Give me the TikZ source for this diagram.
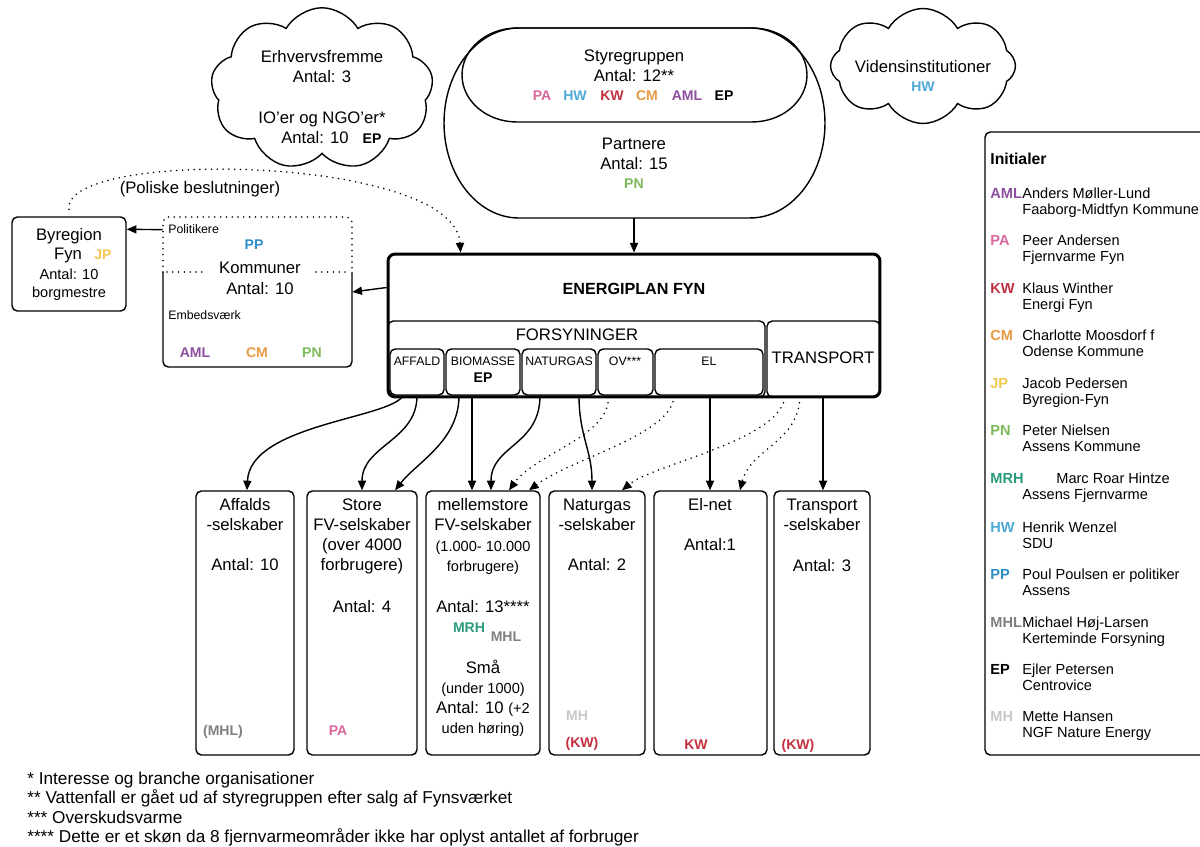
\documentclass[tikz,border=0pt]{standalone}
\usepackage{fontspec}
\setmainfont{Liberation Sans}
\usetikzlibrary{shapes.symbols,arrows.meta,calc}
\definecolor{cPA}{HTML}{D8679B}
\definecolor{cHW}{HTML}{4DA8D6}
\definecolor{cKW}{HTML}{C2303F}
\definecolor{cCM}{HTML}{E69A45}
\definecolor{cAML}{HTML}{8C4F9F}
\definecolor{cPN}{HTML}{7DB85A}
\definecolor{cJP}{HTML}{F0C850}
\definecolor{cMRH}{HTML}{2A9A7E}
\definecolor{cPP}{HTML}{2C8CC4}
\definecolor{cMHL}{HTML}{7F7F7F}
\definecolor{cMH}{HTML}{C8C8C8}
\newcommand\fsMain{\fontsize{9.5}{11}\selectfont}
\newcommand\fsMid{\fontsize{8.3}{10}\selectfont}
\newcommand\fsSmall{\fontsize{7}{8.5}\selectfont}
\newcommand\fsFoot{\fontsize{9.8}{11}\selectfont}
\newcommand\initl[2]{{\fontsize{8}{9}\selectfont\bfseries\color{#1}#2}}
\tikzset{
  box/.style={draw, line width=0.8pt, rounded corners=3pt, inner sep=0pt},
  tx/.style={inner sep=0pt, text height=0.72em, text depth=0pt, font=\fsMain},
  txm/.style={tx, font=\fsMid},
  txs/.style={tx, font=\fsSmall},
  arr/.style={-{Triangle[length=5.5pt,width=4.6pt]}, line width=0.8pt},
  dotline/.style={line width=1pt, dash pattern=on 0pt off 3.3pt, line cap=round},
  darr/.style={dotline, -{Triangle[length=5.5pt,width=4.6pt]}},
  lg/.style={inner sep=0pt, text height=0.72em, text depth=0pt, anchor=west, font=\fsMid},
  lgi/.style={lg, font=\fsMid\bfseries},
  cloudbox/.style={cloud, draw, line width=0.8pt, cloud ignores aspect, inner sep=0pt}
}
\begin{document}
\begin{tikzpicture}[x=0.02cm,y=-0.02cm]
\useasboundingbox (0,0) rectangle (1200,847);

% ---- clouds
\node[cloudbox, cloud puffs=9, cloud puff arc=120, minimum width=4.45cm, minimum height=3.25cm] (erhv) at (322,89) {};
\node[tx] (erhv1) at (322,56) {Erhvervsfremme};
\node[tx] (erhv2) at (322,76) {Antal: 3};
\node[tx] (erhv3) at (322,117) {IO'er og NGO'er*};
\node[tx] (erhv4) at (315,137) {Antal: 10};
\node[tx] (erhv5) at (372,137) {\initl{black}{EP}};

\node[cloudbox, cloud puffs=8, cloud puff arc=120, minimum width=3.7cm, minimum height=2.3cm] (viden) at (923,66) {};
\node[tx] (viden1) at (923,66) {Vidensinstitutioner};
\node[tx] (viden2) at (923,85) {\initl{cHW}{HW}};

% ---- Partnere / Styregruppen
\draw[line width=0.8pt] (519,28) -- (750,28) arc[start angle=90,end angle=-90,x radius=1.5cm,y radius=1.9cm]
  -- (519,218) arc[start angle=270,end angle=90,x radius=1.5cm,y radius=1.9cm] -- cycle;
\draw[line width=0.8pt] (517,28) -- (752,28) arc[start angle=90,end angle=-90,x radius=1.1cm,y radius=0.94cm]
  -- (517,122) arc[start angle=270,end angle=90,x radius=1.1cm,y radius=0.94cm] -- cycle;
\coordinate (partB) at (634,218);
\node[tx] (sty1) at (634,55) {Styregruppen};
\node[tx] (sty2) at (634,75) {Antal: 12**};
\node[tx] (pa1) at (542,94) {\initl{cPA}{PA}};
\node[tx] (hw1) at (575,94) {\initl{cHW}{HW}};
\node[tx] (kw1) at (612,94) {\initl{cKW}{KW}};
\node[tx] (cm1) at (647,94) {\initl{cCM}{CM}};
\node[tx] (aml1) at (687,94) {\initl{cAML}{AML}};
\node[tx] (ep1) at (724,94) {\initl{black}{EP}};
\node[tx] (par1) at (634,143) {Partnere};
\node[tx] (par2) at (634,163) {Antal: 15};
\node[tx] (par3) at (634,182) {\initl{cPN}{PN}};

% ---- Energiplan Fyn
\node[draw, line width=1.7pt, rounded corners=4pt, minimum width=9.84cm, minimum height=2.86cm, inner sep=0pt] (ep) at (634,325.5) {};
\node[tx, font=\fontsize{9.2}{11}\selectfont\bfseries] (eptitle) at (634,288) {ENERGIPLAN FYN};
\node[box, minimum width=7.54cm, minimum height=1.52cm] (forsyn) at (576.5,359) {};
\node[box, minimum width=2.26cm, minimum height=1.52cm] (transp) at (823.5,359) {};
\node[tx] (forsynT) at (577,334) {FORSYNINGER};
\node[tx] (transpT) at (823,357) {TRANSPORT};
\node[box, minimum width=1.08cm, minimum height=0.92cm] (affald) at (417,372) {};
\node[box, minimum width=1.48cm, minimum height=0.92cm] (biomasse) at (483,372) {};
\node[box, minimum width=1.48cm, minimum height=0.92cm] (naturgas) at (559,372) {};
\node[box, minimum width=1.10cm, minimum height=0.92cm] (ov) at (625.5,372) {};
\node[box, minimum width=2.16cm, minimum height=0.92cm] (el) at (709,372) {};
\node[txs] (affaldT) at (417,359) {AFFALD};
\node[txs] (biomasseT) at (483,359) {BIOMASSE};
\node[tx] (biomasseEP) at (483,376) {\initl{black}{EP}};
\node[txs] (naturgasT) at (559,359) {NATURGAS};
\node[txs] (ovT) at (625,359) {OV***};
\node[txs] (elT) at (709,359) {EL};

\draw[arr] (partB) -- (ep.north);

% ---- Kommuner
\draw[line width=0.8pt, rounded corners=3pt] (163,272) -- (163,367) -- (352,367) -- (352,272);
\draw[dotline, rounded corners=3pt] (163,272) -- (163,217) -- (352,217) -- (352,272);
\draw[dotline] (167,272) -- (205,272);
\draw[dotline] (316,272) -- (350,272);
\node[minimum width=3.78cm, minimum height=3cm, inner sep=0pt] (komm) at (257.5,292) {};
\node[txs, anchor=west] (polT) at (168,227) {Politikere};
\node[tx] (pp1) at (254,243) {\initl{cPP}{PP}};
\node[tx] (kommT) at (260,267) {Kommuner};
\node[tx] (kommA) at (260,288) {Antal: 10};
\node[txs, anchor=west] (embT) at (168,313) {Embedsværk};
\node[tx] (aml2) at (195,351) {\initl{cAML}{AML}};
\node[tx] (cm2) at (257,351) {\initl{cCM}{CM}};
\node[tx] (pn2) at (312,351) {\initl{cPN}{PN}};

% ---- Byregion
\node[box, minimum width=2.28cm, minimum height=1.88cm] (byr) at (69,264) {};
\node[tx] (byr1) at (69,234) {Byregion};
\node[tx] (byr2) at (68,253) {Fyn};
\node[tx] (jp1) at (103,253) {\initl{cJP}{JP}};
\node[txm] (byr3) at (69,273) {Antal: 10};
\node[txm] (byr4) at (69,291) {borgmestre};

\draw[arr] ($(ep.north west)+(0,35)$) -- (komm.east);
\draw[arr] ($(komm.north west)+(0,13)$) -- ($(byr.north east)+(0,13)$);
\draw[darr] ($(byr.north)+(0,-7)$) .. controls (62,148) and (455,155) .. ($(ep.north west)+(74,0)$);
\node[tx] (polbes) at (200,187) {(Poliske beslutninger)};

% ---- bottom boxes
\node[box, minimum width=1.96cm, minimum height=5.28cm] (b1) at (245,623) {};
\node[box, minimum width=2.20cm, minimum height=5.28cm] (b2) at (362,623) {};
\node[box, minimum width=2.28cm, minimum height=5.28cm] (b3) at (483,623) {};
\node[box, minimum width=1.92cm, minimum height=5.28cm] (b4) at (597,623) {};
\node[box, minimum width=2.26cm, minimum height=5.28cm] (b5) at (710.5,623) {};
\node[box, minimum width=1.92cm, minimum height=5.28cm] (b6) at (822,623) {};

\node[tx] (b1a) at (245,504) {Affalds};
\node[tx] (b1b) at (245,524) {-selskaber};
\node[tx] (b1c) at (245,564) {Antal: 10};
\node[tx] (b1d) at (223,729) {\initl{cMHL}{(MHL)}};

\node[tx] (b2a) at (362,504) {Store};
\node[tx] (b2b) at (362,524) {FV-selskaber};
\node[tx] (b2c) at (362,544) {(over 4000};
\node[tx] (b2d) at (362,564) {forbrugere)};
\node[tx] (b2e) at (362,606) {Antal: 4};
\node[tx] (b2f) at (338,729) {\initl{cPA}{PA}};

\node[tx] (b3a) at (483,504) {mellemstore};
\node[tx] (b3b) at (483,524) {FV-selskaber};
\node[txm] (b3c) at (483,545) {(1.000- 10.000};
\node[txm] (b3d) at (483,565) {forbrugere)};
\node[tx] (b3e) at (483,606) {Antal: 13****};
\node[tx] (b3f) at (469,626) {\initl{cMRH}{MRH}};
\node[tx] (b3g) at (506,635) {\initl{cMHL}{MHL}};
\node[tx] (b3h) at (483,667) {Små};
\node[txm] (b3i) at (483,687) {(under 1000)};
\node[tx] (b3j) at (483,707) {Antal: 10 {\fsMid(+2}};
\node[txm] (b3k) at (483,727) {uden høring)};

\node[tx] (b4a) at (597,504) {Naturgas};
\node[tx] (b4b) at (597,524) {-selskaber};
\node[tx] (b4c) at (597,564) {Antal: 2};
\node[tx] (b4d) at (577,714) {\initl{cMH}{MH}};
\node[tx] (b4e) at (582,741) {\initl{cKW}{(KW)}};

\node[tx] (b5a) at (710,504) {El-net};
\node[tx] (b5b) at (710,544) {Antal:1};
\node[tx] (b5c) at (696,743) {\initl{cKW}{KW}};

\node[tx] (b6a) at (822,504) {Transport};
\node[tx] (b6b) at (822,524) {-selskaber};
\node[tx] (b6c) at (822,565) {Antal: 3};
\node[tx] (b6d) at (798,743) {\initl{cKW}{(KW)}};

% ---- connectors to bottom boxes
\draw[arr] ($(affald.south)+(-14,0)$) .. controls +(-13,23) and +(3,-66) .. ($(b1.north)+(2,0)$);
\draw[arr] (affald.south) .. controls +(0,45) and +(0,-45) .. (b2.north);
\draw[arr] ($(biomasse.south)+(-24,0)$) .. controls +(0,45) and +(22,-28) .. ($(b2.north)+(33,0)$);
\draw[arr] ($(biomasse.south)+(-11,0)$) -- ($(b3.north)+(-11,0)$);
\draw[arr] ($(naturgas.south)+(-19,0)$) .. controls +(0,50) and +(0,-45) .. ($(b3.north)+(8,0)$);
\draw[darr] ($(ov.south)+(-17.5,7)$) .. controls +(-5,35) and +(25,-35) .. ($(b3.north)+(26,0)$);
\draw[darr] ($(el.south)+(-36,6)$) .. controls +(-10,35) and +(40,-30) .. ($(b3.north)+(46,0)$);
\draw[arr] ($(naturgas.south)+(20,0)$) .. controls +(0,40) and +(0,-40) .. ($(b4.north)+(-5,0)$);
\draw[darr] ($(transp.south)+(-40,5)$) .. controls +(-15,40) and +(30,-25) .. ($(b4.north)+(25,0)$);
\draw[arr] ($(el.south)+(1,0)$) -- ($(b5.north)+(-0.5,0)$);
\draw[darr] ($(transp.south)+(-24,5)$) .. controls +(-5,40) and +(10,-40) .. ($(b5.north)+(29.5,0)$);
\draw[arr] ($(transp.south)+(-0.5,0)$) -- ($(b6.north)+(1,0)$);

% ---- legend
\draw[line width=0.8pt, rounded corners=3pt] (1215,132) -- (985,132) -- (985,755) -- (1215,755);
\node[lg, font=\fontsize{9}{10}\selectfont\bfseries] (legT) at (990,158) {Initialer};
\node[lgi, text=cAML] (l1) at (990,192) {AML};
\node[lg] (l1a) at (1022,192) {Anders Møller-Lund};
\node[lg] (l1b) at (1022,208) {Faaborg-Midtfyn Kommune};
\node[lgi, text=cPA] (l2) at (990,239) {PA};
\node[lg] (l2a) at (1022,239) {Peer Andersen};
\node[lg] (l2b) at (1022,255) {Fjernvarme Fyn};
\node[lgi, text=cKW] (l3) at (990,287) {KW};
\node[lg] (l3a) at (1022,287) {Klaus Winther};
\node[lg] (l3b) at (1022,303) {Energi Fyn};
\node[lgi, text=cCM] (l4) at (990,334) {CM};
\node[lg] (l4a) at (1022,334) {Charlotte Moosdorf f};
\node[lg] (l4b) at (1022,350) {Odense Kommune};
\node[lgi, text=cJP] (l5) at (990,382) {JP};
\node[lg] (l5a) at (1022,382) {Jacob Pedersen};
\node[lg] (l5b) at (1022,398) {Byregion-Fyn};
\node[lgi, text=cPN] (l6) at (990,429) {PN};
\node[lg] (l6a) at (1022,429) {Peter Nielsen};
\node[lg] (l6b) at (1022,445) {Assens Kommune};
\node[lgi, text=cMRH] (l7) at (990,477) {MRH};
\node[lg] (l7a) at (1056,477) {Marc Roar Hintze};
\node[lg] (l7b) at (1022,493) {Assens Fjernvarme};
\node[lgi, text=cHW] (l8) at (990,526) {HW};
\node[lg] (l8a) at (1022,526) {Henrik Wenzel};
\node[lg] (l8b) at (1022,542) {SDU};
\node[lgi, text=cPP] (l9) at (990,573) {PP};
\node[lg] (l9a) at (1022,573) {Poul Poulsen er politiker};
\node[lg] (l9b) at (1022,589) {Assens};
\node[lgi, text=cMHL] (l10) at (990,621) {MHL};
\node[lg] (l10a) at (1022,621) {Michael Høj-Larsen};
\node[lg] (l10b) at (1022,637) {Kerteminde Forsyning};
\node[lgi, text=black] (l11) at (990,668) {EP};
\node[lg] (l11a) at (1022,668) {Ejler Petersen};
\node[lg] (l11b) at (1022,684) {Centrovice};
\node[lgi, text=cMH] (l12) at (990,715) {MH};
\node[lg] (l12a) at (1022,715) {Mette Hansen};
\node[lg] (l12b) at (1022,731) {NGF Nature Energy};

% ---- footnotes
\node[lg, font=\fsFoot] (fn1) at (27,778) {* Interesse og branche organisationer};
\node[lg, font=\fsFoot] (fn2) at (27,797) {** Vattenfall er gået ud af styregruppen efter salg af Fynsværket};
\node[lg, font=\fsFoot] (fn3) at (27,817) {*** Overskudsvarme};
\node[lg, font=\fsFoot] (fn4) at (27,836) {**** Dette er et skøn da 8 fjernvarmeområder ikke har oplyst antallet af forbruger};
\end{tikzpicture}
\end{document}
